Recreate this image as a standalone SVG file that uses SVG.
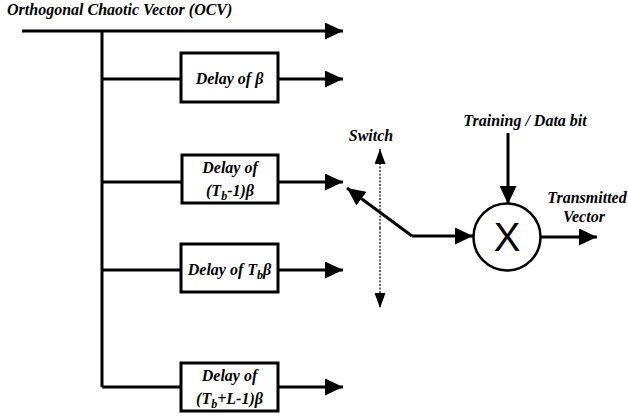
<svg xmlns="http://www.w3.org/2000/svg" width="628" height="418" viewBox="0 0 628 418">
  <defs>
    <marker id="ah" viewBox="0 0 18 17" refX="18" refY="8.5" markerWidth="18" markerHeight="17" markerUnits="userSpaceOnUse" orient="auto">
      <path d="M0,0 L18,8.5 L0,17 Z" fill="#000"/>
    </marker>
    <marker id="ahs" viewBox="0 0 15 11" refX="15" refY="5.5" markerWidth="15" markerHeight="11" markerUnits="userSpaceOnUse" orient="auto">
      <path d="M0,0 L15,5.5 L0,11 Z" fill="#000"/>
    </marker>
  </defs>

  <g id="labels" font-family="Times New Roman, Liberation Serif, serif" font-weight="bold" font-style="italic" font-size="16" fill="#000">
    <text x="7" y="15">Orthogonal Chaotic Vector (OCV)</text>
  </g>

  <g id="connectors" stroke="#000" stroke-width="3" fill="none">
    <path d="M22,31 H343" marker-end="url(#ah)"/>
    <path d="M102,31 V387"/>
    <path d="M102,79 H181"/>
    <path d="M278,79 H343" marker-end="url(#ah)"/>
    <path d="M102,182 H181"/>
    <path d="M278,182 H343" marker-end="url(#ah)"/>
    <path d="M102,270 H181"/>
    <path d="M278,270 H343" marker-end="url(#ah)"/>
    <path d="M102,387 H181"/>
    <path d="M278,387 H343" marker-end="url(#ah)"/>
    <path d="M412,236 L347,188" marker-end="url(#ah)"/>
    <path d="M412,236 H473" marker-end="url(#ah)"/>
    <path d="M508,133 V204" marker-end="url(#ah)"/>
    <path d="M541,237 H597" marker-end="url(#ah)"/>
  </g>

  <g font-family="Times New Roman, Liberation Serif, serif" font-weight="bold" font-style="italic" font-size="16" fill="#000" text-anchor="middle">
    <g id="delay-beta">
      <rect x="181" y="53" width="97" height="49" fill="#fff" stroke="#000" stroke-width="3"/>
      <text x="229.5" y="84">Delay of β</text>
    </g>

    <g id="delay-tb-1">
      <rect x="182" y="155" width="96" height="48" fill="#fff" stroke="#000" stroke-width="3"/>
      <text x="230" y="173">Delay of</text>
      <text x="230" y="196">(T<tspan font-size="12" dy="4">b</tspan><tspan dy="-4">-1)β</tspan></text>
    </g>

    <g id="delay-tb">
      <rect x="181" y="244" width="97" height="48" fill="#fff" stroke="#000" stroke-width="3"/>
      <text x="229.5" y="275">Delay of T<tspan font-size="12" dy="4">b</tspan><tspan dy="-4">β</tspan></text>
    </g>

    <g id="delay-tb-l-1">
      <rect x="181" y="363" width="97" height="48" fill="#fff" stroke="#000" stroke-width="3"/>
      <text x="229.5" y="381">Delay of</text>
      <text x="229.5" y="404">(T<tspan font-size="12" dy="4">b</tspan><tspan dy="-4">+L-1)β</tspan></text>
    </g>

    <g id="switch">
      <text x="371" y="141">Switch</text>
      <path d="M380,228 V149" stroke="#000" stroke-width="1.2" stroke-dasharray="2 1.5" fill="none" marker-end="url(#ahs)"/>
      <path d="M380,228 V308" stroke="#000" stroke-width="1.2" stroke-dasharray="2 1.5" fill="none" marker-end="url(#ahs)"/>
    </g>

    <g id="training">
      <text x="525" y="126">Training / Data bit</text>
    </g>

    <g id="output">
      <text x="587" y="203">Transmitted</text>
      <text x="584" y="222">Vector</text>
    </g>
  </g>

  <g id="multiplier">
    <circle cx="507" cy="237" r="33.5" fill="#fff" stroke="#000" stroke-width="2.5"/>
    <text x="507" y="251" text-anchor="middle" font-family="Liberation Sans, Arial, sans-serif" font-size="40">X</text>
  </g>
</svg>
